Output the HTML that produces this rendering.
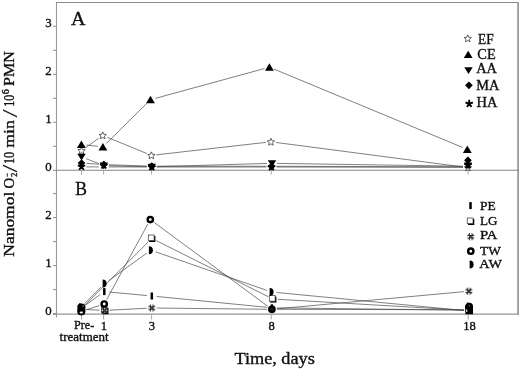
<!DOCTYPE html>
<html><head><meta charset="utf-8"><title>Figure</title>
<style>
html,body{margin:0;padding:0;background:#fff;}
body{width:520px;height:370px;overflow:hidden;}
svg{display:block;}
text{font-family:"Liberation Serif","DejaVu Serif",serif;fill:#111;stroke:#111;stroke-width:0.35px;}
</style></head><body>
<svg width="520" height="370" viewBox="0 0 520 370">
<rect width="520" height="370" fill="#fff"/>
<g fill="none">
<path d="M56 2.45H519" stroke="#8c8c8c" stroke-width="1.1"/>
<path d="M518.1 2V314.7" stroke="#9c9c9c" stroke-width="1.8"/>
<path d="M56.45 2V317.5" stroke="#8a8a8a" stroke-width="0.95"/>
<path d="M52.8 314.15H519" stroke="#949494" stroke-width="1.15"/>
<path d="M52.8 170.3H519" stroke="#858585" stroke-width="1.1"/>
</g>
<g stroke="#858585" stroke-width="0.9">
<path d="M53 146.3H56.3"/>
<path d="M53 122.3H56.3"/>
<path d="M53 98.3H56.3"/>
<path d="M53 74.3H56.3"/>
<path d="M53 50.3H56.3"/>
<path d="M53 26.3H56.3"/>
<path d="M53 313.6H56.3"/>
<path d="M53 289.6H56.3"/>
<path d="M53 265.6H56.3"/>
<path d="M53 241.6H56.3"/>
<path d="M53 217.6H56.3"/>
<path d="M53 193.6H56.3"/>
</g>
<g stroke="#a8a8a8" stroke-width="1">
<path d="M81.5 170.8V174.6"/>
<path d="M81.5 314.2V319.5"/>
<path d="M103.6 170.8V174.6"/>
<path d="M103.6 314.2V319.5"/>
<path d="M151.6 170.8V174.6"/>
<path d="M151.6 314.2V319.5"/>
<path d="M271.2 170.8V174.6"/>
<path d="M271.2 314.2V319.5"/>
<path d="M468.2 170.8V174.6"/>
<path d="M468.2 314.2V319.5"/>
</g>
<path fill="none" stroke="#444" stroke-width="0.68" d="M86.37 145.05L97.93 146.35M106.45 143.38L146.95 103.22M155.32 98.38L264.58 68.52M274.02 69.12L462.68 147.48M85.56 147.69L98.64 138.31M107.33 137.30L146.77 153.50M156.37 154.83L265.93 142.37M275.86 142.45L463.04 166.95M86.16 158.72L99.14 163.78M108.80 165.72L146.80 166.68M156.80 166.65L267.00 163.45M277.00 163.38L463.00 166.22M86.49 163.36L98.81 164.24M108.80 164.77L146.80 166.03M156.80 166.20L266.50 166.30M276.50 166.31L463.00 166.79M86.50 166.90L98.80 166.90M108.80 166.91L146.80 166.99M156.80 167.00L266.50 167.00M276.50 167.01L463.00 167.39M85.56 305.08L100.24 294.52M109.28 292.06L146.82 295.54M156.78 296.49L266.92 307.31M276.90 307.86L464.00 310.14M85.04 305.07L148.26 241.93M156.27 240.64L268.33 296.76M277.79 299.29L464.01 310.21M86.50 309.62L99.60 310.18M109.59 310.15L146.81 308.25M156.80 308.05L266.90 309.25M276.88 308.84L463.92 291.66M86.06 309.86L99.44 305.54M106.60 299.61L147.90 223.99M154.32 222.57L267.88 306.33M276.90 309.31L464.00 309.79M84.54 303.66L101.06 287.14M108.66 280.67L146.84 253.13M155.62 251.84L266.88 290.36M276.58 292.48L464.02 310.52"/>
<path d="M81.50 147.05L82.54 149.47L85.16 149.71L83.18 151.45L83.76 154.01L81.50 152.67L79.24 154.01L79.82 151.45L77.84 149.71L80.46 149.47Z" fill="#fff" stroke="#3a3a3a" stroke-width="0.8" stroke-linejoin="miter"/>
<path d="M102.70 131.85L103.74 134.27L106.36 134.51L104.38 136.25L104.96 138.81L102.70 137.47L100.44 138.81L101.02 136.25L99.04 134.51L101.66 134.27Z" fill="#fff" stroke="#3a3a3a" stroke-width="0.8" stroke-linejoin="miter"/>
<path d="M151.40 151.85L152.44 154.27L155.06 154.51L153.08 156.25L153.66 158.81L151.40 157.47L149.14 158.81L149.72 156.25L147.74 154.51L150.36 154.27Z" fill="#fff" stroke="#3a3a3a" stroke-width="0.8" stroke-linejoin="miter"/>
<path d="M270.90 138.25L271.94 140.67L274.56 140.91L272.58 142.65L273.16 145.21L270.90 143.87L268.64 145.21L269.22 142.65L267.24 140.91L269.86 140.67Z" fill="#fff" stroke="#3a3a3a" stroke-width="0.8" stroke-linejoin="miter"/>
<path d="M468.00 164.05L469.04 166.47L471.66 166.71L469.68 168.45L470.26 171.01L468.00 169.67L465.74 171.01L466.32 168.45L464.34 166.71L466.96 166.47Z" fill="#fff" stroke="#3a3a3a" stroke-width="0.8" stroke-linejoin="miter"/>
<path d="M81.50 166.60L81.50 162.70M81.50 166.60L85.21 165.39M81.50 166.60L83.79 169.76M81.50 166.60L79.21 169.76M81.50 166.60L77.79 165.39" stroke="#000" stroke-width="1.9" fill="none"/>
<path d="M103.80 165.40L103.80 161.50M103.80 165.40L107.51 164.19M103.80 165.40L106.09 168.56M103.80 165.40L101.51 168.56M103.80 165.40L100.09 164.19" stroke="#000" stroke-width="1.9" fill="none"/>
<path d="M151.80 167.00L151.80 163.10M151.80 167.00L155.51 165.79M151.80 167.00L154.09 170.16M151.80 167.00L149.51 170.16M151.80 167.00L148.09 165.79" stroke="#000" stroke-width="1.9" fill="none"/>
<path d="M271.50 167.00L271.50 163.10M271.50 167.00L275.21 165.79M271.50 167.00L273.79 170.16M271.50 167.00L269.21 170.16M271.50 167.00L267.79 165.79" stroke="#000" stroke-width="1.9" fill="none"/>
<path d="M468.00 165.00L468.00 161.10M468.00 165.00L471.71 163.79M468.00 165.00L470.29 168.16M468.00 165.00L465.71 168.16M468.00 165.00L464.29 163.79" stroke="#000" stroke-width="1.9" fill="none"/>
<path d="M77.65 163.00L81.50 159.15L85.35 163.00L81.50 166.85Z" fill="#000"/>
<path d="M99.95 164.60L103.80 160.75L107.65 164.60L103.80 168.45Z" fill="#000"/>
<path d="M147.95 166.20L151.80 162.35L155.65 166.20L151.80 170.05Z" fill="#000"/>
<path d="M267.65 166.30L271.50 162.45L275.35 166.30L271.50 170.15Z" fill="#000"/>
<path d="M464.05 160.30L467.90 156.45L471.75 160.30L467.90 164.15Z" fill="#000"/>
<path d="M77.30 153.80H85.70L81.50 160.50Z" fill="#000"/>
<path d="M99.60 162.50H108.00L103.80 169.20Z" fill="#000"/>
<path d="M147.60 163.70H156.00L151.80 170.40Z" fill="#000"/>
<path d="M267.80 160.20H276.20L272.00 166.90Z" fill="#000"/>
<path d="M463.80 162.50H472.20L468.00 169.20Z" fill="#000"/>
<path d="M77.00 148.00H85.80L81.40 140.60Z" fill="#000"/>
<path d="M98.50 150.40H107.30L102.90 143.00Z" fill="#000"/>
<path d="M146.10 103.20H154.90L150.50 95.80Z" fill="#000"/>
<path d="M265.00 70.70H273.80L269.40 63.30Z" fill="#000"/>
<path d="M462.90 152.90H471.70L467.30 145.50Z" fill="#000"/>
<rect x="80.25" y="304.50" width="2.5" height="7" fill="#000"/>
<rect x="103.05" y="288.10" width="2.5" height="7" fill="#000"/>
<rect x="150.55" y="292.50" width="2.5" height="7" fill="#000"/>
<rect x="270.65" y="304.30" width="2.5" height="7" fill="#000"/>
<rect x="467.75" y="306.10" width="2.5" height="7" fill="#000"/>
<rect x="78.90" y="306.10" width="6.2" height="6.1" fill="#000"/><rect x="78.00" y="305.20" width="5.8" height="5.6" fill="#fff" stroke="#333" stroke-width="0.7"/>
<rect x="102.30" y="308.10" width="6.2" height="6.1" fill="#000"/><rect x="101.40" y="307.20" width="5.8" height="5.6" fill="#fff" stroke="#333" stroke-width="0.7"/>
<rect x="149.20" y="235.90" width="6.2" height="6.1" fill="#000"/><rect x="148.30" y="235.00" width="5.8" height="5.6" fill="#fff" stroke="#333" stroke-width="0.7"/>
<rect x="270.20" y="296.50" width="6.2" height="6.1" fill="#000"/><rect x="269.30" y="295.60" width="5.8" height="5.6" fill="#fff" stroke="#333" stroke-width="0.7"/>
<rect x="466.40" y="306.90" width="6.2" height="6.1" fill="#000"/><rect x="465.50" y="306.00" width="5.8" height="5.6" fill="#fff" stroke="#333" stroke-width="0.7"/>
<path d="M80.30 305.80V313.00M82.70 305.80V313.00M78.00 308.20H85.00M78.00 310.60H85.00M78.90 306.80L84.10 312.00M84.10 306.80L78.90 312.00" stroke="#1a1a1a" stroke-width="0.85" fill="none"/>
<path d="M103.40 306.80V314.00M105.80 306.80V314.00M101.10 309.20H108.10M101.10 311.60H108.10M102.00 307.80L107.20 313.00M107.20 307.80L102.00 313.00" stroke="#1a1a1a" stroke-width="0.85" fill="none"/>
<path d="M150.60 304.40V311.60M153.00 304.40V311.60M148.30 306.80H155.30M148.30 309.20H155.30M149.20 305.40L154.40 310.60M154.40 305.40L149.20 310.60" stroke="#1a1a1a" stroke-width="0.85" fill="none"/>
<path d="M270.70 305.70V312.90M273.10 305.70V312.90M268.40 308.10H275.40M268.40 310.50H275.40M269.30 306.70L274.50 311.90M274.50 306.70L269.30 311.90" stroke="#1a1a1a" stroke-width="0.85" fill="none"/>
<path d="M467.70 287.60V294.80M470.10 287.60V294.80M465.40 290.00H472.40M465.40 292.40H472.40M466.30 288.60L471.50 293.80M471.50 288.60L466.30 293.80" stroke="#1a1a1a" stroke-width="0.85" fill="none"/>
<path d="M79.00 303.20A4 4 0 0 1 79.00 311.20Z" fill="#000"/>
<path d="M102.60 279.60A4 4 0 0 1 102.60 287.60Z" fill="#000"/>
<path d="M148.90 246.20A4 4 0 0 1 148.90 254.20Z" fill="#000"/>
<path d="M269.60 288.00A4 4 0 0 1 269.60 296.00Z" fill="#000"/>
<path d="M467.00 302.60A4 4 0 0 1 467.00 310.60Z" fill="#000"/>
<circle cx="81.30" cy="311.40" r="2.65" fill="none" stroke="#000" stroke-width="2.4"/>
<circle cx="104.20" cy="304.00" r="2.65" fill="none" stroke="#000" stroke-width="2.4"/>
<circle cx="150.30" cy="219.60" r="2.65" fill="none" stroke="#000" stroke-width="2.4"/>
<circle cx="271.90" cy="309.30" r="2.65" fill="none" stroke="#000" stroke-width="2.4"/>
<circle cx="469.00" cy="307.20" r="2.65" fill="none" stroke="#000" stroke-width="2.4"/>
<path d="M77.5 306.6Q77.5 303.5 81.4 303.5Q85.3 303.5 85.3 306.6V311.4Q85.3 315.2 81.4 315.2Q77.5 315.2 77.5 311.4Z" fill="#000"/>
<ellipse cx="81.3" cy="312.5" rx="1.7" ry="0.9" fill="#fff"/>
<circle cx="83.1" cy="305.9" r="0.6" fill="#ddd"/>
<path d="M465.4 307Q465.4 302.8 469.2 302.8Q473 302.8 473 307V314.2H465.4Z" fill="#000"/>
<rect x="466.0" y="309.4" width="1.3" height="2.6" fill="#ccc"/>
<circle cx="469.2" cy="305.6" r="0.6" fill="#999"/>
<path d="M467.70 34.85L468.74 37.27L471.36 37.51L469.38 39.25L469.96 41.81L467.70 40.47L465.44 41.81L466.02 39.25L464.04 37.51L466.66 37.27Z" fill="#fff" stroke="#3a3a3a" stroke-width="0.8" stroke-linejoin="miter"/>
<path d="M463.80 58.10H472.60L468.20 50.70Z" fill="#000"/>
<path d="M464.30 67.30H472.70L468.50 74.00Z" fill="#000"/>
<path d="M465.05 85.30L468.90 81.45L472.75 85.30L468.90 89.15Z" fill="#000"/>
<path d="M469.20 103.70L469.20 99.80M469.20 103.70L472.91 102.49M469.20 103.70L471.49 106.86M469.20 103.70L466.91 106.86M469.20 103.70L465.49 102.49" stroke="#000" stroke-width="1.9" fill="none"/>
<text x="478" y="43.6" font-size="13.6" textLength="15.6" lengthAdjust="spacingAndGlyphs">EF</text>
<text x="477.3" y="58.8" font-size="13.6" textLength="18.4" lengthAdjust="spacingAndGlyphs">CE</text>
<text x="476.2" y="73.4" font-size="13.6" textLength="20.8" lengthAdjust="spacingAndGlyphs">AA</text>
<text x="476.2" y="89.8" font-size="13.6" textLength="23.1" lengthAdjust="spacingAndGlyphs">MA</text>
<text x="476.6" y="106.6" font-size="13.6" textLength="20.9" lengthAdjust="spacingAndGlyphs">HA</text>
<rect x="469.25" y="202.10" width="2.5" height="7" fill="#000"/>
<rect x="468.10" y="218.90" width="6.2" height="6.1" fill="#000"/><rect x="467.20" y="218.00" width="5.8" height="5.6" fill="#fff" stroke="#333" stroke-width="0.7"/>
<path d="M469.60 233.10V240.30M472.00 233.10V240.30M467.30 235.50H474.30M467.30 237.90H474.30M468.20 234.10L473.40 239.30M473.40 234.10L468.20 239.30" stroke="#1a1a1a" stroke-width="0.85" fill="none"/>
<circle cx="470.80" cy="251.20" r="2.65" fill="none" stroke="#000" stroke-width="2.4"/>
<path d="M469.60 260.50A4 4 0 0 1 469.60 268.50Z" fill="#000"/>
<text x="480.0" y="209.7" font-size="12.7" textLength="15.7" lengthAdjust="spacingAndGlyphs">PE</text>
<text x="480.0" y="225" font-size="12.7" textLength="17.4" lengthAdjust="spacingAndGlyphs">LG</text>
<text x="480.0" y="239.4" font-size="12.7" textLength="17.4" lengthAdjust="spacingAndGlyphs">PA</text>
<text x="480.0" y="254.5" font-size="12.7" textLength="20.8" lengthAdjust="spacingAndGlyphs">TW</text>
<text x="479.3" y="267.9" font-size="12.7" textLength="22.6" lengthAdjust="spacingAndGlyphs">AW</text>
<text x="51.6" y="27.1" font-size="12.8" text-anchor="end">3</text>
<text x="51.6" y="75.1" font-size="12.8" text-anchor="end">2</text>
<text x="51.6" y="123.1" font-size="12.8" text-anchor="end">1</text>
<text x="51.6" y="170.9" font-size="12.8" text-anchor="end">0</text>
<text x="51.6" y="218.5" font-size="12.8" text-anchor="end">2</text>
<text x="51.6" y="266.5" font-size="12.8" text-anchor="end">1</text>
<text x="51.6" y="314.6" font-size="12.8" text-anchor="end">0</text>
<text x="74" y="329.3" font-size="12.2" textLength="20.2" lengthAdjust="spacingAndGlyphs">Pre-</text>
<text x="59.6" y="341.3" font-size="12.2" textLength="49" lengthAdjust="spacingAndGlyphs">treatment</text>
<text x="104" y="330.0" font-size="12.6" text-anchor="middle">1</text>
<text x="152" y="330.0" font-size="12.6" text-anchor="middle">3</text>
<text x="271.7" y="330.0" font-size="12.6" text-anchor="middle">8</text>
<text x="469.6" y="330.0" font-size="12.6" text-anchor="middle">18</text>
<text x="70.9" y="25.4" font-size="18.6" textLength="14.5" lengthAdjust="spacingAndGlyphs">A</text>
<text x="75.3" y="195.4" font-size="18.6" textLength="11.7" lengthAdjust="spacingAndGlyphs">B</text>
<text x="234.4" y="363.6" font-size="16" textLength="80.4" lengthAdjust="spacingAndGlyphs">Time, days</text>
<g transform="translate(13.8 256.7) rotate(-90)" font-size="14.8">
<text x="0.0" y="0" textLength="65.0" lengthAdjust="spacingAndGlyphs">Nanomol</text>
<text x="68.3" y="0" textLength="10.7" lengthAdjust="spacingAndGlyphs">O</text>
<text x="80.0" y="2.8" textLength="4.0" lengthAdjust="spacingAndGlyphs" font-size="8.5">2</text>
<text x="80.0" y="-4.2" textLength="4.0" lengthAdjust="spacingAndGlyphs" font-size="8.5">−</text>
<text x="84.2" y="3.4" textLength="8.0" lengthAdjust="spacingAndGlyphs" font-size="21" style="stroke:none;fill:#1a1a1a">/</text>
<text x="92.6" y="0" textLength="12.4" lengthAdjust="spacingAndGlyphs">10</text>
<text x="109.0" y="0" textLength="27.4" lengthAdjust="spacingAndGlyphs">min</text>
<text x="139.2" y="3.4" textLength="8.2" lengthAdjust="spacingAndGlyphs" font-size="21" style="stroke:none;fill:#1a1a1a">/</text>
<text x="149.9" y="0" textLength="11.9" lengthAdjust="spacingAndGlyphs">10</text>
<text x="162.4" y="-4.6" textLength="5.0" lengthAdjust="spacingAndGlyphs" font-size="9.5">6</text>
<text x="170.8" y="0" textLength="34.6" lengthAdjust="spacingAndGlyphs">PMN</text>
</g>
</svg></body></html>
